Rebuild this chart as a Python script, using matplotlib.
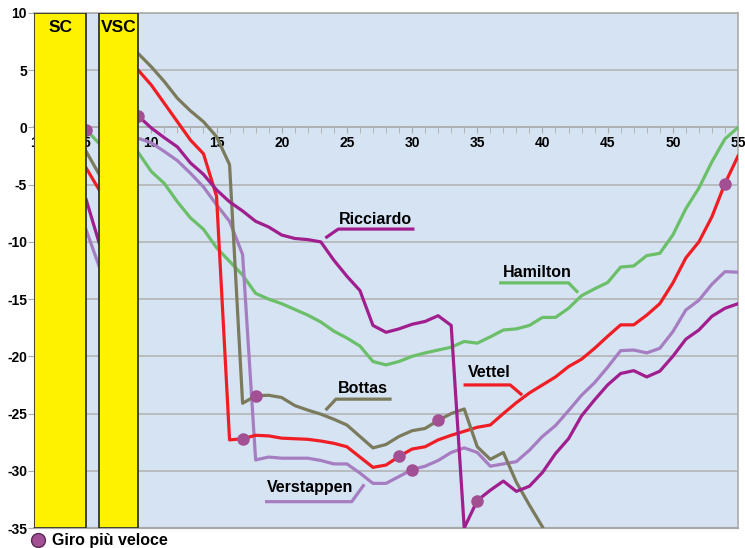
import numpy as np
import matplotlib
matplotlib.use('Agg')
import matplotlib.pyplot as plt
from matplotlib.patches import Rectangle
from matplotlib.lines import Line2D

nan = np.nan
laps = np.arange(1, 56)

hamilton = [nan, nan, nan, nan, -0.2, -1.4, nan, nan,
            -2.2, -3.85, -4.9, -6.5, -7.9, -8.9, -10.5,
            -11.7, -12.9, -14.5, -15.0, -15.4, -15.9, -16.4, -17.0, -17.8, -18.4,
            -19.1, -20.45, -20.75, -20.45, -20.0, -19.7, -19.45, -19.2, -18.7, -18.85,
            -18.3, -17.7, -17.6, -17.3, -16.6, -16.6, -15.8, -14.7, -14.1, -13.55,
            -12.2, -12.1, -11.2, -11.0, -9.4, -7.1, -5.3, -3.0, -1.0, 0.0]
vettel = [nan, nan, nan, nan, -3.55, -5.45, nan, nan,
          5.0, 3.7, 2.1, 0.5, -1.1, -2.3, -6.0,
          -27.3, -27.2, -26.9, -26.95, -27.15, -27.2, -27.25, -27.4, -27.6, -27.9,
          -28.8, -29.7, -29.5, -28.75, -28.1, -27.9, -27.3, -26.9, -26.55, -26.2,
          -26.0, -25.0, -24.05, -23.2, -22.5, -21.8, -20.9, -20.25, -19.3, -18.25,
          -17.25, -17.25, -16.4, -15.4, -13.6, -11.4, -10.0, -7.8, -4.9, -2.5]
ricciardo = [nan, nan, nan, nan, -6.3, -10.1, nan, nan,
             1.0, -0.05, -0.9, -1.7, -3.1, -4.1, -5.45,
             -6.5, -7.3, -8.2, -8.7, -9.4, -9.7, -9.8, -10.0, -11.6, -13.0,
             -14.25, -17.3, -17.9, -17.6, -17.2, -16.95, -16.45, -17.3, -35.0, -32.6,
             -31.7, -30.9, -31.8, -31.35, -30.15, -28.5, -27.2, -25.2, -23.8, -22.5,
             -21.5, -21.25, -21.8, -21.3, -20.0, -18.5, -17.7, -16.5, -15.8, -15.4]
bottas = [nan, nan, nan, nan, -2.1, -4.1, nan, nan,
          6.45, 5.3, 4.0, 2.55, 1.45, 0.5, -0.8,
          -3.25, -24.1, -23.45, -23.4, -23.6, -24.3, -24.7, -25.05, -25.5, -26.0,
          -27.0, -28.0, -27.7, -27.0, -26.5, -26.3, -25.6, -25.0, -24.6, -27.9,
          -29.0, -28.4, -31.0, -33.0, -34.9,
          nan, nan, nan, nan, nan, nan, nan, nan, nan, nan, nan, nan, nan, nan, nan]
verstappen = [nan, nan, nan, nan, -8.95, -12.15, nan, nan,
              -0.95, -1.35, -2.1, -2.9, -4.0, -5.2, -6.75,
              -8.2, -11.1, -29.05, -28.8, -28.9, -28.9, -28.9, -29.1, -29.4, -29.4,
              -30.2, -31.1, -31.1, -30.5, -29.9, -29.6, -29.1, -28.4, -28.0, -28.4,
              -29.6, -29.4, -29.2, -28.2, -27.0, -26.05, -24.75, -23.4, -22.3, -20.95,
              -19.5, -19.45, -19.7, -19.3, -17.85, -15.95, -15.1, -13.7, -12.6, -12.65]

drivers = ['Hamilton', 'Verstappen', 'Vettel', 'Bottas', 'Ricciardo']
series = {'Hamilton': hamilton, 'Vettel': vettel, 'Ricciardo': ricciardo,
          'Bottas': bottas, 'Verstappen': verstappen}

fastest_driver = ['Hamilton', 'Ricciardo', 'Vettel', 'Bottas', 'Vettel',
                  'Verstappen', 'Bottas', 'Ricciardo', 'Vettel']
fastest_lap = [5, 9, 17, 18, 29, 30, 32, 35, 54]

neutral_labels = ['SC', 'VSC']
neutral_start = [1, 6]
neutral_end = [5, 9]

xtick_labels = ['1', '5', '10', '15', '20', '25', '30', '35', '40', '45', '50', '55']
legend_label = 'Giro più veloce'

# ---- styles / positions ----
colors = {'Hamilton': '#6cbf69', 'Vettel': '#f01e24', 'Ricciardo': '#a01e8e',
          'Bottas': '#7b7a5c', 'Verstappen': '#a67dc0'}
label_pos = {
    'Ricciardo': ((27.2, -8.05), [(23.45, -9.58), (24.34, -8.88), (30.06, -8.88)]),
    'Hamilton': ((39.6, -12.7), [(36.8, -13.58), (42.0, -13.58), (42.65, -14.34)]),
    'Vettel': ((35.9, -21.4), [(34.07, -22.5), (37.53, -22.5), (38.35, -23.3)]),
    'Bottas': ((26.2, -22.85), [(23.45, -24.6), (24.16, -23.74), (28.31, -23.74)]),
    'Verstappen': ((22.2, -31.5), [(18.84, -32.7), (25.37, -32.7), (26.26, -31.3)]),
}
marker_color = '#a24f93'
font = ['Liberation Sans', 'DejaVu Sans']
plt.rcParams['font.family'] = font

fig = plt.figure(figsize=(7.45, 5.48), dpi=100)
ax = fig.add_axes([34 / 745, 1 - 528 / 548, (738 - 34) / 745, (528 - 13) / 548])
ax.set_facecolor('#d5e3f3')
ax.set_xlim(1, 55)
ax.set_ylim(-35, 10)

for yv in range(-35, 11, 5):
    if yv != 0:
        ax.axhline(yv, color='#b0b0b0', lw=1.1, zorder=1)

for d in drivers:
    ax.plot(laps, series[d], color=colors[d], lw=2.3, zorder=3, solid_joinstyle='round')

for d, lp in zip(fastest_driver, fastest_lap):
    ax.plot([lp], [series[d][lp - 1]], 'o', ms=8, color=marker_color, zorder=4)

for name, (tpos, pts) in label_pos.items():
    xs, ys = zip(*pts)
    ax.plot(xs, ys, color=colors[name], lw=2.3, zorder=3)
    ax.text(tpos[0], tpos[1], name, ha='center', va='center', fontsize=11.5,
            fontweight='bold', color='black', zorder=5)

for lab, s, e in zip(neutral_labels, neutral_start, neutral_end):
    ax.add_patch(Rectangle((s, -35), e - s, 45, facecolor='#fff200',
                           edgecolor='#333333', lw=1.3, zorder=6))
    ax.text((s + e) / 2, 8.75, lab, ha='center', va='center', fontsize=12.5,
            fontweight='bold', zorder=7)

# axes
ax.spines['bottom'].set_position(('data', 0))
for sp in ['bottom', 'top', 'right', 'left']:
    ax.spines[sp].set_color('#ababab')
ax.spines['bottom'].set_linewidth(1.3)
ax.spines['top'].set_linewidth(1.2)
ax.spines['right'].set_linewidth(1.2)
ax.axhline(-35, color='#a8a8a8', lw=1.6, zorder=2, clip_on=False)

major = [int(t) for t in xtick_labels]
ax.set_xticks(major)
ax.set_xticklabels(xtick_labels, fontsize=10, fontweight='bold')
ax.set_xticks(laps, minor=True)
ax.tick_params(axis='x', which='both', direction='out', length=4, color='#ababab',
               pad=2.5)
ax.set_yticks(range(-35, 11, 5))
ax.set_yticklabels([str(v) for v in range(-35, 11, 5)], fontsize=10, fontweight='bold')
ax.tick_params(axis='y', length=4, color='#ababab', pad=1)

# legend
fig.add_artist(Line2D([38 / 745], [1 - 540 / 548], marker='o', ms=10,
                      color=marker_color, markeredgecolor='#5a2a55', mew=1.0,
                      transform=fig.transFigure))
fig.text(52 / 745, 1 - 540 / 548, legend_label, ha='left', va='center',
         fontsize=11.5, fontweight='bold')

fig.savefig('out.png', dpi=100)
